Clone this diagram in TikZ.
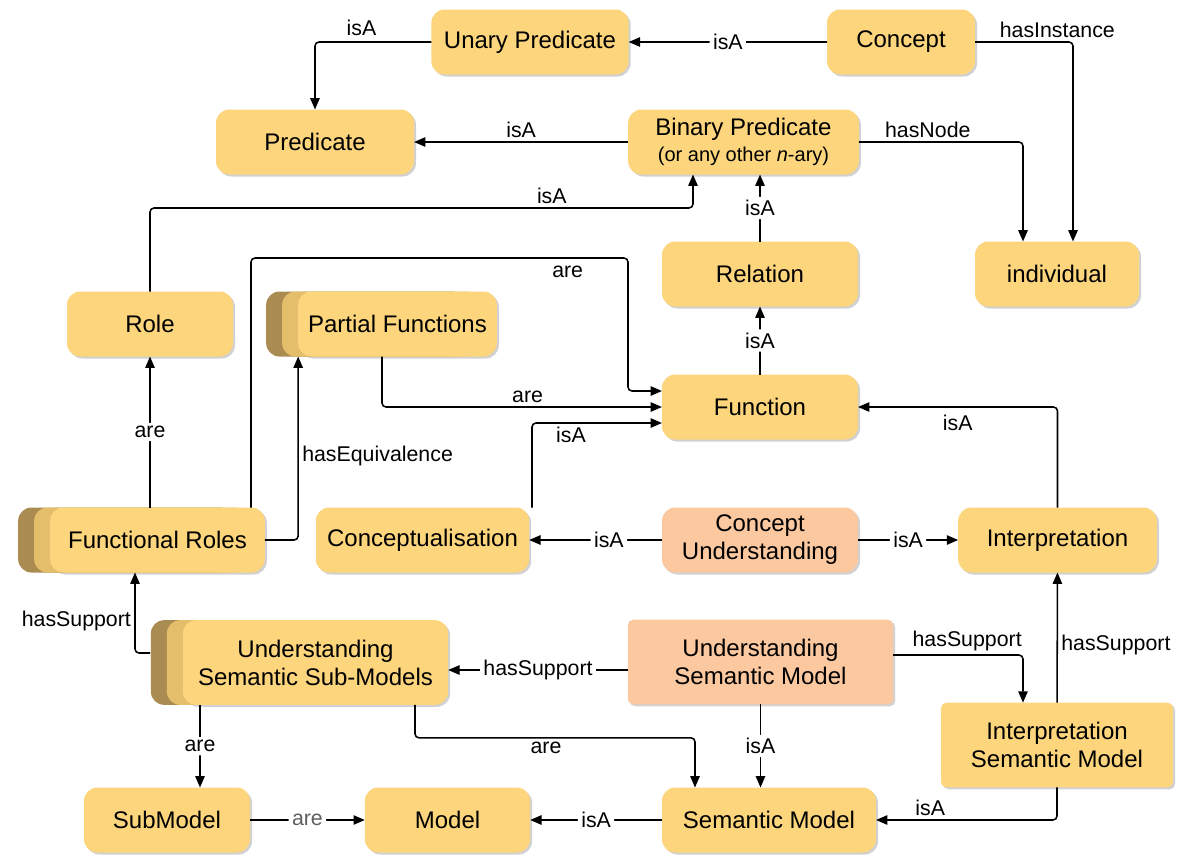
\documentclass[tikz,border=0pt]{standalone}
\usepackage{fontspec}
\setmainfont{Liberation Sans}
\usetikzlibrary{arrows.meta,shadows}
\definecolor{nodeyellow}{RGB}{252,213,124}
\definecolor{nodesalmon}{RGB}{252,200,160}
\definecolor{stackmid}{RGB}{228,190,106}
\definecolor{stackdark}{RGB}{170,140,82}
\definecolor{labgrey}{RGB}{95,95,95}
\begin{document}
\begin{tikzpicture}[x=0.75pt,y=0.75pt,yscale=-1,xscale=1,
  box/.style={fill=nodeyellow, rounded corners=10pt, minimum height=48.75pt, align=center, inner sep=2pt, outer sep=0pt,
    font=\fontsize{18}{21}\selectfont, drop shadow={shadow xshift=1.5pt, shadow yshift=-1.5pt, fill=black, opacity=0.18}},
  stack/.style={box, general shadow={shadow xshift=-24pt, fill=stackdark}, general shadow={shadow xshift=-12pt, fill=stackmid}},
  model/.style={box, rounded corners=4pt, minimum height=63.5pt},
  arr/.style={-{Triangle[length=8.5pt,width=7pt]}, line width=1.15pt, rounded corners=3pt},
  lab/.style={font=\fontsize{16}{18}\selectfont, inner sep=2.5pt},
  onlab/.style={lab, fill=white}]
\useasboundingbox (0,0) rectangle (1189,854);
% nodes
\node [box, minimum width=148pt] (unary) at (530,42) {Unary Predicate};
\node [box, minimum width=111pt] (concept) at (901,42) {Concept};
\node [box, minimum width=148.5pt] (pred) at (315,142) {Predicate};
\node [box, minimum width=173pt] (binary) at (743.5,142) {Binary Predicate\\[-2pt]{\fontsize{15}{17}\selectfont (or any other \textit{n}-ary)}};
\node [box, minimum width=147pt] (relation) at (760,274) {Relation};
\node [box, minimum width=123pt] (indiv) at (1057,274) {individual};
\node [box, minimum width=124.5pt] (role) at (150,324) {Role};
\node [stack, minimum width=149pt] (partial) at (397.5,324) {Partial Functions};
\node [box, minimum width=147pt] (function) at (760,407) {Function};
\node [stack, minimum width=161pt] (froles) at (157.5,540) {Functional Roles};
\node [box, minimum width=160pt] (concep) at (422.5,540) {Conceptualisation};
\node [box, fill=nodesalmon, minimum width=147pt] (cunder) at (760,540) {Concept\\Understanding};
\node [box, minimum width=149pt] (interp) at (1057.5,540) {Interpretation};
\node [stack, minimum width=199pt, minimum height=63.5pt] (submod) at (315.5,662.5) {Understanding\\Semantic Sub-Models};
\node [model, fill=nodesalmon, minimum width=199pt] (usm) at (760.5,662) {Understanding\\Semantic Model};
\node [model, minimum width=174pt] (ism) at (1057,745) {Interpretation\\Semantic Model};
\node [box, minimum width=124.5pt] (submodel) at (167,820) {SubModel};
\node [box, minimum width=124pt] (model) at (447.5,820) {Model};
\node [box, minimum width=160.5pt] (sem) at (769,820) {Semantic Model};
\coordinate (submodback) at (150,653);
% connectors
\draw [arr] (concept) -- node [onlab] {isA} (unary);
\draw [arr] (unary) -| node [lab, above=2pt, pos=0.3] {isA} (pred);
\draw [arr] (binary) -- node [lab, above] {isA} (pred);
\draw [arr] (binary) -| node [lab, above, pos=0.21] {hasNode} (1023,0 |- indiv.north);
\draw [arr] (concept) -| node [lab, above, pos=0.42] {hasInstance} (1073,0 |- indiv.north);
\draw [arr] (relation) -- node [onlab] {isA} (relation |- binary.south);
\draw [arr] (role) |- node [lab, above, pos=0.87] {isA} (693,208) -- (693,0 |- binary.south);
\draw [arr] (function) -- node [onlab] {isA} (relation);
\draw [arr] (froles.north -| role) -- node [onlab] {are} (role);
\draw [arr] (251,0 |- froles.north) |- node [lab, below=3pt, pos=0.92] {are} (628,258) |- (function.west |- 0,391);
\draw [arr] (froles) -| node [lab, right, pos=0.73] {hasEquivalence} (partial.south west);
\draw [arr] (382,0 |- partial.south) |- node [lab, above, pos=0.76] {are} (function);
\draw [arr] (532,0 |- concep.north) |- node [lab, below, pos=0.65] {isA} (function.west |- 0,423);
\draw [arr] (interp) |- node [lab, below=3pt, pos=0.75] {isA} (function);
\draw [arr] (cunder) -- node [onlab, pos=0.4] {isA} (concep);
\draw [arr] (cunder) -- node [onlab] {isA} (interp);
\draw [arr] (submodback) -| node [lab, left, pos=0.7] {hasSupport} (135,0 |- froles.south);
\draw [arr] (usm.west |- 0,670) -- node [onlab] {hasSupport} (submod.east |- 0,670);
\draw [arr] (usm.east |- 0,655) -| node [lab, above, pos=0.285] {hasSupport} (1023,0 |- ism.north);
\draw [arr] (ism) -- node [lab, right, pos=0.44] {hasSupport} (interp);
\draw [arr] (usm) -- node [onlab] {isA} (usm |- sem.north);
\draw [arr] (415,0 |- submod.south) -- ++(0,33) -| node [lab, below, pos=0.234] {are} (695,0 |- sem.north);
\draw [arr] (200,0 |- submod.south) -- node [onlab] {are} (200,0 |- submodel.north);
\draw [arr] (submodel) -- node [onlab, text=labgrey] {are} (model);
\draw [arr] (sem) -- node [onlab] {isA} (model);
\draw [arr] (ism) |- node [lab, above, pos=0.85] {isA} (sem);
\end{tikzpicture}
\end{document}
